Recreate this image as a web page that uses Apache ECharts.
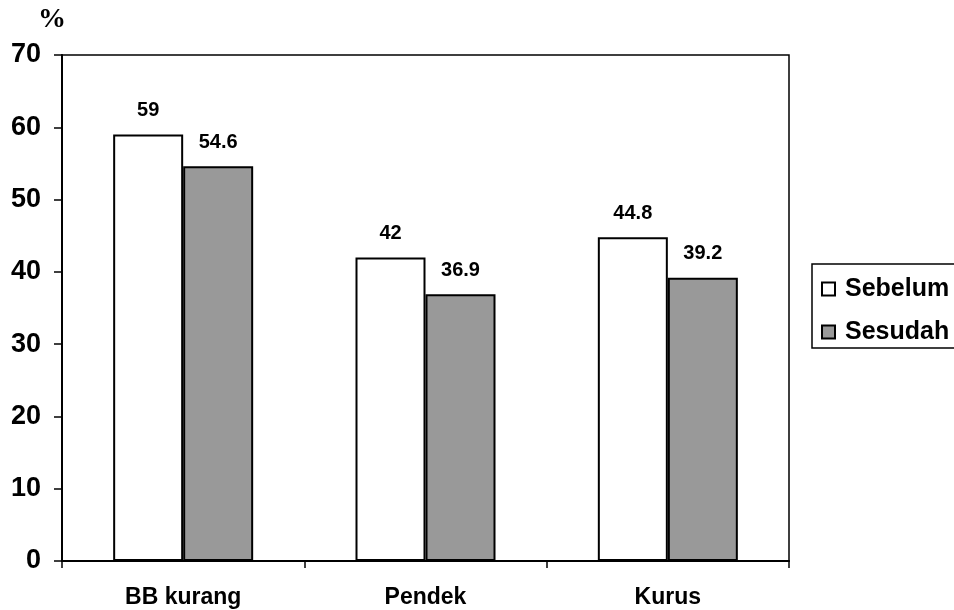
<!DOCTYPE html>
<html>
<head>
<meta charset="utf-8">
<script src="https://cdn.jsdelivr.net/npm/echarts@6/dist/echarts.min.js"></script>
<style>
  html, body { margin: 0; padding: 0; background: #fff; }
  #chart { width: 954px; height: 610px; }
</style>
</head>
<body>
<div id="chart"></div>
<script>
// Categories and series values
const categories = ['BB kurang', 'Pendek', 'Kurus'];
const sebelum = [59, 42, 44.8];
const sesudah = [54.6, 36.9, 39.2];
const seriesNames = ['Sebelum', 'Sesudah'];
const yTicks = { min: 0, max: 70, interval: 10 };

const chart = echarts.init(document.getElementById('chart'));

const barLabel = {
  show: true,
  position: 'top',
  distance: 14,
  color: '#000',
  fontFamily: 'Liberation Sans, Arial, sans-serif',
  fontWeight: 'bold',
  fontSize: 20
};

chart.setOption({
  animation: false,
  backgroundColor: '#fff',
  grid: {
    left: 62, top: 55, right: 165, bottom: 49,
    show: true, borderColor: '#000', borderWidth: 1.5
  },
  graphic: [{
    type: 'text', left: 38, top: 6,
    style: {
      text: '%', fill: '#000',
      font: 'bold 28px "Liberation Serif", "Times New Roman", serif'
    }
  }],
  legend: {
    orient: 'vertical',
    left: 812, top: 264,
    padding: [12, 40, 3, 9],
    itemGap: 17,
    itemWidth: 13, itemHeight: 13,
    borderColor: '#000', borderWidth: 1.5,
    backgroundColor: '#fff',
    icon: 'rect',
    data: seriesNames,
    textStyle: {
      color: '#000', fontFamily: 'Liberation Sans, Arial, sans-serif',
      fontWeight: 'bold', fontSize: 25, lineHeight: 26,
      padding: [0, 0, 0, 5]
    }
  },
  xAxis: {
    type: 'category',
    data: categories,
    axisLine: { lineStyle: { color: '#000', width: 2 } },
    axisTick: { show: true, length: 7, lineStyle: { color: '#000', width: 1.5 } },
    axisLabel: {
      color: '#000', margin: 25,
      fontFamily: 'Liberation Sans, Arial, sans-serif',
      fontWeight: 'bold', fontSize: 23
    }
  },
  yAxis: {
    type: 'value',
    min: yTicks.min, max: yTicks.max, interval: yTicks.interval,
    splitLine: { show: false },
    axisLine: { show: true, lineStyle: { color: '#000', width: 2 } },
    axisTick: { show: true, length: 8, lineStyle: { color: '#000', width: 1.5 } },
    axisLabel: {
      color: '#000', margin: 21,
      fontFamily: 'Liberation Sans, Arial, sans-serif',
      fontWeight: 'bold', fontSize: 27
    }
  },
  series: [
    {
      name: seriesNames[0], type: 'bar', data: sebelum,
      barWidth: 70, barGap: '0%',
      itemStyle: { color: '#ffffff', borderColor: '#000', borderWidth: 2 },
      label: barLabel
    },
    {
      name: seriesNames[1], type: 'bar', data: sesudah,
      barWidth: 70,
      itemStyle: { color: '#999999', borderColor: '#000', borderWidth: 2 },
      label: barLabel
    }
  ]
});
</script>
</body>
</html>
